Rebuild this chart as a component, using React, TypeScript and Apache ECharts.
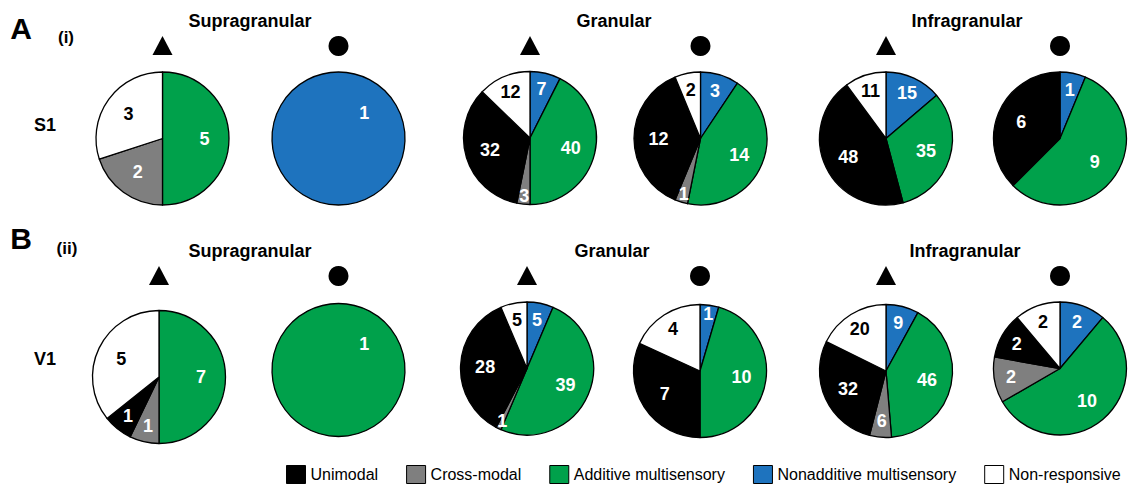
import React, { useEffect, useRef } from 'react';
import * as echarts from 'echarts';

// ---------- data ----------
const CATEGORIES = ['Unimodal', 'Cross-modal', 'Additive multisensory', 'Nonadditive multisensory', 'Non-responsive'];
// values ordered as CATEGORIES
const S1_SUPRA_TRI = [0, 2, 5, 0, 3];
const S1_SUPRA_CIRC = [0, 0, 0, 1, 0];
const S1_GRAN_TRI = [32, 3, 40, 7, 12];
const S1_GRAN_CIRC = [12, 1, 14, 3, 2];
const S1_INFRA_TRI = [48, 0, 35, 15, 11];
const S1_INFRA_CIRC = [6, 0, 9, 1, 0];
const V1_SUPRA_TRI = [1, 1, 7, 0, 5];
const V1_SUPRA_CIRC = [0, 0, 1, 0, 0];
const V1_GRAN_TRI = [28, 1, 39, 5, 5];
const V1_GRAN_CIRC = [7, 0, 10, 1, 4];
const V1_INFRA_TRI = [32, 6, 46, 9, 20];
const V1_INFRA_CIRC = [2, 2, 10, 2, 2];
const LAYERS = ['Supragranular', 'Granular', 'Infragranular'];
const ROW_LABELS = ['S1', 'V1'];

// ---------- styles / layout ----------
const COLORS = ['#000000', '#7f7f7f', '#00a14b', '#1e73be', '#ffffff'];
const LABEL_COLORS = ['#ffffff', '#ffffff', '#ffffff', '#ffffff', '#000000'];
const SLICE_ORDER = [3, 2, 1, 0, 4]; // clockwise from 12 o'clock
const FONT = '"Liberation Sans", Arial, Helvetica, sans-serif';
const R = 66.5;
const ROWS = [
  { centers: [[162.5, 138.5], [338.5, 138.5], [530, 138], [700.5, 138.5], [886, 138.5], [1060, 138.5]], symY: 46, titleY: 21, letterY: 28, romanY: 37, rowLabelY: 125 },
  { centers: [[159, 377], [338.5, 370], [527, 368.5], [700, 371], [886, 371], [1060, 368.5]], symY: 276, titleY: 251, letterY: 238, romanY: 248, rowLabelY: 359 },
];
const TITLE_X = [[250, 614, 967], [250, 612, 965]];
const PIE_VALUES = [
  [S1_SUPRA_TRI, S1_SUPRA_CIRC, S1_GRAN_TRI, S1_GRAN_CIRC, S1_INFRA_TRI, S1_INFRA_CIRC],
  [V1_SUPRA_TRI, V1_SUPRA_CIRC, V1_GRAN_TRI, V1_GRAN_CIRC, V1_INFRA_TRI, V1_INFRA_CIRC],
];

function labelFactor(f: number) {
  if (f > 0.999) return 0.55;
  if (f < 0.05) return 0.87;
  if (f < 0.2) return 0.75;
  return 0.63;
}

function buildPie(values: number[], cx: number, cy: number) {
  const items = SLICE_ORDER.filter((i) => values[i] > 0).map((i) => ({
    idx: i,
    value: values[i],
  }));
  const total = items.reduce((s, d) => s + d.value, 0);
  let acc = 0;
  const pts = items.map((d) => {
    const f = d.value / total;
    const mid = f > 0.999 ? Math.PI / 4 : (acc + f / 2) * Math.PI * 2;
    acc += f;
    const rr = R * labelFactor(f);
    return { x: cx + rr * Math.sin(mid), y: cy - rr * Math.cos(mid) };
  });
  return {
    type: 'pie',
    center: [cx, cy],
    radius: [0, R],
    startAngle: 90,
    clockwise: true,
    silent: true,
    avoidLabelOverlap: false,
    itemStyle: { borderColor: '#000', borderWidth: 1.3 },
    emphasis: { disabled: true },
    labelLine: { show: false },
    label: {
      show: true,
      position: 'inside',
      formatter: '{c}',
      fontFamily: FONT,
      fontSize: 18,
      fontWeight: 'bold',
    },
    labelLayout: (p: any) => {
      const pt = pts[p.dataIndex];
      return pt ? { x: pt.x, y: pt.y, align: 'center', verticalAlign: 'middle' } : {};
    },
    data: items.map((d) => ({
      name: CATEGORIES[d.idx],
      value: d.value,
      itemStyle: { color: COLORS[d.idx] },
      label: { color: LABEL_COLORS[d.idx] },
    })),
  };
}

function txt(text: string, x: number, y: number, size: number, bold = true, align = 'center') {
  return {
    type: 'text',
    x,
    y,
    silent: true,
    style: {
      text,
      fill: '#000',
      fontFamily: FONT,
      fontSize: size,
      fontWeight: bold ? 'bold' : 'normal',
      align,
      verticalAlign: 'middle',
      textAlign: align,
      textVerticalAlign: 'middle',
    },
  };
}

export default function App() {
  const ref = useRef<HTMLDivElement>(null);
  useEffect(() => {
    document.body.style.margin = '0';
    if (!ref.current) return;
    const chart = echarts.init(ref.current, null, { renderer: 'svg' });
    const series: any[] = [];
    const graphic: any[] = [];
    ROWS.forEach((row, ri) => {
      row.centers.forEach(([cx, cy], ci) => {
        series.push(buildPie(PIE_VALUES[ri][ci], cx, cy));
        if (ci % 2 === 0) {
          graphic.push({
            type: 'polygon',
            x: cx,
            y: row.symY,
            silent: true,
            shape: { points: [[0, -10], [10, 9], [-10, 9]] },
            style: { fill: '#000' },
          });
        } else {
          graphic.push({
            type: 'circle',
            x: cx,
            y: row.symY,
            silent: true,
            shape: { cx: 0, cy: 0, r: 10 },
            style: { fill: '#000' },
          });
        }
      });
      LAYERS.forEach((name, li) => graphic.push(txt(name, TITLE_X[ri][li], row.titleY, 18)));
      graphic.push(txt(ri === 0 ? 'A' : 'B', 21, row.letterY, 30));
      graphic.push(txt(ri === 0 ? '(i)' : '(ii)', ri === 0 ? 66 : 67, row.romanY, 17));
      graphic.push(txt(ROW_LABELS[ri], 45, row.rowLabelY, 18));
    });
    chart.setOption({
      animation: false,
      backgroundColor: '#fff',
      legend: {
        left: 286,
        top: 465,
        padding: 0,
        icon: 'rect',
        itemWidth: 19,
        itemHeight: 18,
        itemGap: 28,
        selectedMode: false,
        data: CATEGORIES,
        itemStyle: { borderColor: '#000', borderWidth: 1 },
        textStyle: { fontFamily: FONT, fontSize: 16, lineHeight: 18, color: '#000' },
      },
      series,
      graphic,
    });
    return () => chart.dispose();
  }, []);
  return <div ref={ref} style={{ width: 1130, height: 485 }} />;
}
